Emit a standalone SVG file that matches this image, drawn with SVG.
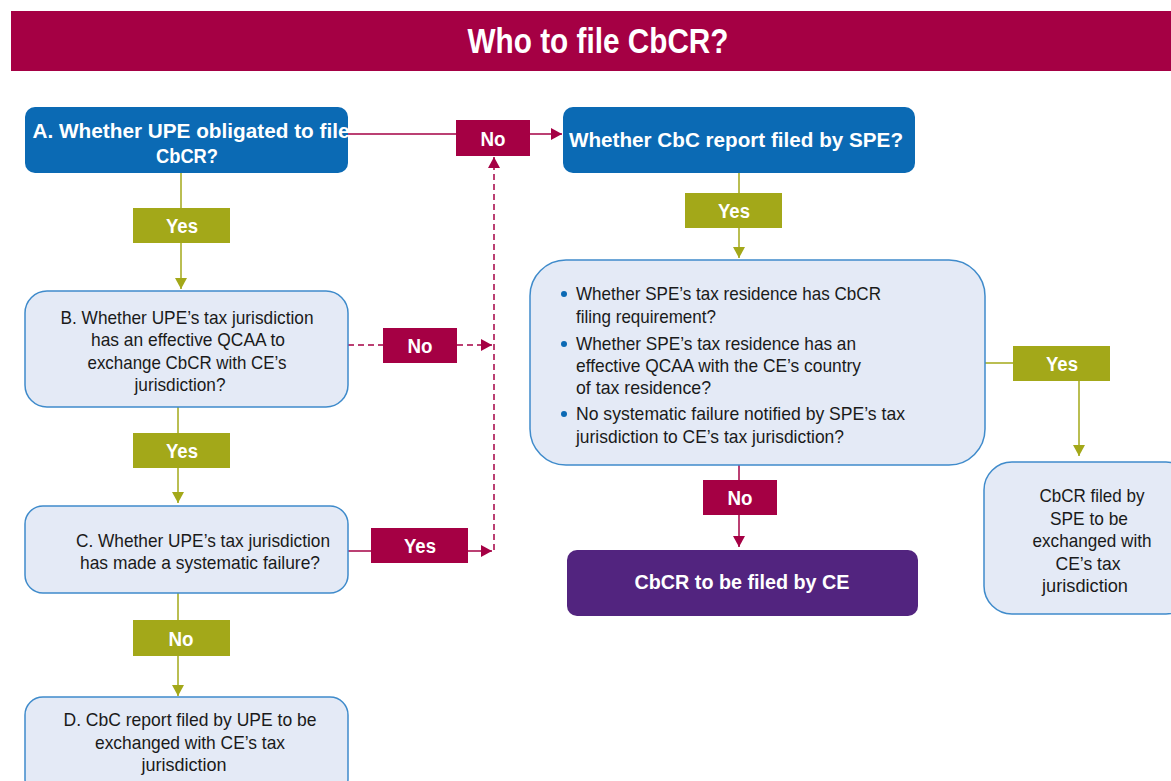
<svg xmlns="http://www.w3.org/2000/svg" width="1171" height="781" viewBox="0 0 1171 781">
  <style>
    .hd { font-family: "Liberation Sans Narrow", "Liberation Sans", Arial, sans-serif; font-weight: bold; fill: #ffffff; }
    .tx { font-family: "Liberation Sans Narrow", "Liberation Sans", Arial, sans-serif; font-size: 19px; fill: #1a1a1a; }
    .lb { font-family: "Liberation Sans Narrow", "Liberation Sans", Arial, sans-serif; font-weight: bold; font-size: 20px; fill: #ffffff; text-anchor: middle; }
    .blue { fill: #0B6AB4; }
    .pale { fill: #E4EAF6; stroke: #3F8BCB; stroke-width: 1.5; }
    .purple { fill: #52247F; }
    .red { fill: #A50044; }
    .olive { fill: #A3A819; }
    .lnR { stroke: #A50044; stroke-width: 1.5; fill: none; }
    .lnRd { stroke: #A50044; stroke-width: 1.5; fill: none; stroke-dasharray: 6 4; }
    .lnO { stroke: #A3A819; stroke-width: 1.5; fill: none; }
  </style>
  <defs>
    <marker id="arrR" markerWidth="12" markerHeight="12" refX="11" refY="6" orient="auto" markerUnits="userSpaceOnUse">
      <path d="M0,0 L11,6 L0,12 Z" fill="#A50044"/>
    </marker>
    <marker id="arrO" markerWidth="12" markerHeight="12" refX="11" refY="6" orient="auto" markerUnits="userSpaceOnUse">
      <path d="M0,0 L11,6 L0,12 Z" fill="#A3A819"/>
    </marker>
  </defs>

  <rect width="1171" height="781" fill="#ffffff"/>

  <!-- Title bar -->
  <g id="title">
    <rect x="11" y="11" width="1160" height="60" class="red"/>
    <text x="598" y="53" class="hd" font-size="35" text-anchor="middle" textLength="261" lengthAdjust="spacingAndGlyphs">Who to file CbCR?</text>
  </g>

  <!-- Connectors -->
  <g id="connectors">
    <!-- A -> No -> SPE -->
    <line x1="348" y1="134" x2="456" y2="134" class="lnR"/>
    <line x1="530" y1="134" x2="562" y2="134" class="lnR" marker-end="url(#arrR)"/>
    <!-- A -> B -->
    <line x1="181" y1="173" x2="181" y2="208" class="lnO"/>
    <line x1="181" y1="243" x2="181" y2="289" class="lnO" marker-end="url(#arrO)"/>
    <!-- B -> No (dashed) -->
    <line x1="348" y1="345" x2="383" y2="345" class="lnRd"/>
    <line x1="457" y1="345" x2="492" y2="345" class="lnRd" marker-end="url(#arrR)"/>
    <!-- dashed riser back to the No label -->
    <line x1="494" y1="550" x2="494" y2="157" class="lnRd" marker-end="url(#arrR)"/>
    <!-- B -> C -->
    <line x1="178" y1="407" x2="178" y2="433" class="lnO"/>
    <line x1="178" y1="468" x2="178" y2="503" class="lnO" marker-end="url(#arrO)"/>
    <!-- C -> Yes -->
    <line x1="348" y1="551" x2="371" y2="551" class="lnR"/>
    <line x1="468" y1="551" x2="492" y2="551" class="lnR" marker-end="url(#arrR)"/>
    <!-- C -> D -->
    <line x1="178" y1="593" x2="178" y2="620" class="lnO"/>
    <line x1="178" y1="656" x2="178" y2="696" class="lnO" marker-end="url(#arrO)"/>
    <!-- SPE -> conditions -->
    <line x1="739" y1="173" x2="739" y2="193" class="lnO"/>
    <line x1="739" y1="228" x2="739" y2="258" class="lnO" marker-end="url(#arrO)"/>
    <!-- conditions -> SPE outcome -->
    <line x1="985" y1="363" x2="1013" y2="363" class="lnO"/>
    <line x1="1079" y1="381" x2="1079" y2="456" class="lnO" marker-end="url(#arrO)"/>
    <!-- conditions -> CE outcome -->
    <line x1="739" y1="463" x2="739" y2="480" class="lnR"/>
    <line x1="739" y1="515" x2="739" y2="547" class="lnR" marker-end="url(#arrR)"/>
  </g>

  <!-- Edge labels -->
  <g id="labels">
    <rect x="456" y="120" width="74" height="36" class="red"/>
    <text x="493" y="146" class="lb" textLength="25" lengthAdjust="spacingAndGlyphs">No</text>
    <rect x="133" y="208" width="97" height="35" class="olive"/>
    <text x="182" y="233" class="lb" textLength="32" lengthAdjust="spacingAndGlyphs">Yes</text>
    <rect x="383" y="328" width="74" height="35" class="red"/>
    <text x="420" y="353" class="lb" textLength="25" lengthAdjust="spacingAndGlyphs">No</text>
    <rect x="133" y="433" width="97" height="35" class="olive"/>
    <text x="182" y="458" class="lb" textLength="32" lengthAdjust="spacingAndGlyphs">Yes</text>
    <rect x="371" y="528" width="97" height="35" class="red"/>
    <text x="420" y="553" class="lb" textLength="32" lengthAdjust="spacingAndGlyphs">Yes</text>
    <rect x="133" y="620" width="97" height="36" class="olive"/>
    <text x="181" y="646" class="lb" textLength="25" lengthAdjust="spacingAndGlyphs">No</text>
    <rect x="685" y="193" width="97" height="35" class="olive"/>
    <text x="734" y="218" class="lb" textLength="32" lengthAdjust="spacingAndGlyphs">Yes</text>
    <rect x="1013" y="346" width="97" height="35" class="olive"/>
    <text x="1062" y="371" class="lb" textLength="32" lengthAdjust="spacingAndGlyphs">Yes</text>
    <rect x="703" y="480" width="74" height="35" class="red"/>
    <text x="740" y="505" class="lb" textLength="25" lengthAdjust="spacingAndGlyphs">No</text>
  </g>

  <!-- Node A -->
  <g id="nodeA">
    <rect x="25" y="107" width="323" height="66" rx="10" class="blue"/>
    <text x="191" y="138" class="hd" font-size="21" text-anchor="middle" textLength="317" lengthAdjust="spacingAndGlyphs">A. Whether UPE obligated to file</text>
    <text x="187" y="163" class="hd" font-size="21" text-anchor="middle" textLength="62" lengthAdjust="spacingAndGlyphs">CbCR?</text>
  </g>

  <!-- SPE question -->
  <g id="nodeSPE">
    <rect x="563" y="107" width="352" height="66" rx="10" class="blue"/>
    <text x="736" y="147" class="hd" font-size="21" text-anchor="middle" textLength="334" lengthAdjust="spacingAndGlyphs">Whether CbC report filed by SPE?</text>
  </g>

  <!-- Node B -->
  <g id="nodeB">
    <rect x="25" y="291" width="323" height="116" rx="22" class="pale"/>
    <text x="187" y="324" class="tx" text-anchor="middle" textLength="253" lengthAdjust="spacingAndGlyphs">B. Whether UPE’s tax jurisdiction</text>
    <text x="188" y="346" class="tx" text-anchor="middle" textLength="194" lengthAdjust="spacingAndGlyphs">has an effective QCAA to</text>
    <text x="187" y="369" class="tx" text-anchor="middle" textLength="199" lengthAdjust="spacingAndGlyphs">exchange CbCR with CE’s</text>
    <text x="180" y="391" class="tx" text-anchor="middle" textLength="91" lengthAdjust="spacingAndGlyphs">jurisdiction?</text>
  </g>

  <!-- Node C -->
  <g id="nodeC">
    <rect x="25" y="506" width="323" height="87" rx="18" class="pale"/>
    <text x="203" y="547" class="tx" text-anchor="middle" textLength="254" lengthAdjust="spacingAndGlyphs">C. Whether UPE’s tax jurisdiction</text>
    <text x="200" y="569" class="tx" text-anchor="middle" textLength="240" lengthAdjust="spacingAndGlyphs">has made a systematic failure?</text>
  </g>

  <!-- Node D -->
  <g id="nodeD">
    <rect x="25" y="697" width="323" height="100" rx="18" class="pale"/>
    <text x="190" y="726" class="tx" text-anchor="middle" textLength="253" lengthAdjust="spacingAndGlyphs">D. CbC report filed by UPE to be</text>
    <text x="190" y="749" class="tx" text-anchor="middle" textLength="190" lengthAdjust="spacingAndGlyphs">exchanged with CE’s tax</text>
    <text x="184" y="771" class="tx" text-anchor="middle" textLength="85" lengthAdjust="spacingAndGlyphs">jurisdiction</text>
  </g>

  <!-- SPE conditions -->
  <g id="nodeConditions">
    <rect x="530" y="260" width="455" height="205" rx="36" class="pale"/>
    <circle cx="564" cy="294" r="3" fill="#0B6AB4"/>
    <circle cx="564" cy="344" r="3" fill="#0B6AB4"/>
    <circle cx="564" cy="414" r="3" fill="#0B6AB4"/>
    <text x="576" y="300" class="tx" textLength="305" lengthAdjust="spacingAndGlyphs">Whether SPE’s tax residence has CbCR</text>
    <text x="576" y="323" class="tx" textLength="140" lengthAdjust="spacingAndGlyphs">filing requirement?</text>
    <text x="576" y="350" class="tx" textLength="280" lengthAdjust="spacingAndGlyphs">Whether SPE’s tax residence has an</text>
    <text x="576" y="372" class="tx" textLength="285" lengthAdjust="spacingAndGlyphs">effective QCAA with the CE’s country</text>
    <text x="576" y="394" class="tx" textLength="135" lengthAdjust="spacingAndGlyphs">of tax residence?</text>
    <text x="576" y="420" class="tx" textLength="329" lengthAdjust="spacingAndGlyphs">No systematic failure notified by SPE’s tax</text>
    <text x="576" y="443" class="tx" textLength="268" lengthAdjust="spacingAndGlyphs">jurisdiction to CE’s tax jurisdiction?</text>
  </g>

  <!-- SPE outcome -->
  <g id="nodeSPEFiled">
    <rect x="984" y="462" width="210" height="152" rx="28" class="pale"/>
    <text x="1092" y="502" class="tx" text-anchor="middle" textLength="105" lengthAdjust="spacingAndGlyphs">CbCR filed by</text>
    <text x="1089" y="525" class="tx" text-anchor="middle" textLength="78" lengthAdjust="spacingAndGlyphs">SPE to be</text>
    <text x="1092" y="547" class="tx" text-anchor="middle" textLength="119" lengthAdjust="spacingAndGlyphs">exchanged with</text>
    <text x="1088" y="570" class="tx" text-anchor="middle" textLength="65" lengthAdjust="spacingAndGlyphs">CE’s tax</text>
    <text x="1085" y="592" class="tx" text-anchor="middle" textLength="86" lengthAdjust="spacingAndGlyphs">jurisdiction</text>
  </g>

  <!-- CE outcome -->
  <g id="nodeCE">
    <rect x="567" y="550" width="351" height="66" rx="10" class="purple"/>
    <text x="742" y="589" class="hd" font-size="21" text-anchor="middle" textLength="215" lengthAdjust="spacingAndGlyphs">CbCR to be filed by CE</text>
  </g>
</svg>
